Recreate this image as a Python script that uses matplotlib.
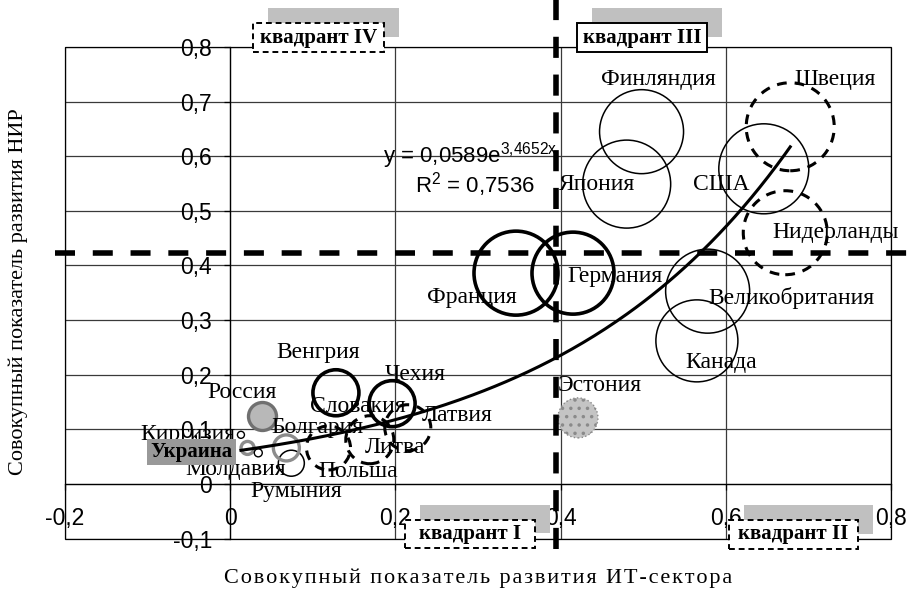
import numpy as np
import matplotlib
matplotlib.use("Agg")
import matplotlib.pyplot as plt
from matplotlib.patches import Rectangle

# ==========================================================
# DATA
# ==========================================================

countries = ["Финляндия", "Япония", "США", "Швеция", "Нидерланды",
             "Великобритания", "Канада", "Германия", "Франция", "Эстония",
             "Венгрия", "Чехия", "Польша", "Литва", "Латвия",
             "Россия", "Болгария", "Украина", "Киргизия", "Молдавия", "Румыния"]

it_index = [0.498, 0.480, 0.646, 0.678, 0.672,
            0.578, 0.565, 0.415, 0.346, 0.421,
            0.128, 0.196, 0.119, 0.169, 0.215,
            0.038, 0.068, 0.021, 0.013, 0.034, 0.074]

rd_index = [0.645, 0.549, 0.577, 0.654, 0.460,
            0.353, 0.262, 0.386, 0.386, 0.121,
            0.167, 0.147, 0.066, 0.081, 0.103,
            0.125, 0.066, 0.066, 0.090, 0.057, 0.038]

# bubble value (relative size of each bubble)
bubble_value = [42, 44, 45, 44, 42,
                42, 41, 41, 42, 20,
                23, 23, 22, 24, 23,
                14, 13, 6.5, 3.5, 4, 13]

# bubble group -> drawing style
bubble_group = ["thin", "thin", "thin", "dash", "dash",
                "thin", "thin", "thick", "thick", "dots",
                "thick", "thick", "dash", "dash", "dash",
                "fill", "ring", "ring", "small", "small", "thin"]

# label texts and their positions (data units)
label_names = ["Финляндия", "Швеция", "Япония", "США", "Нидерланды",
               "Германия", "Франция", "Великобритания", "Канада", "Эстония",
               "Венгрия", "Чехия", "Словакия", "Латвия", "Литва", "Польша",
               "Болгария", "Румыния", "Россия", "Киргизия", "Молдавия"]
label_x = [0.518, 0.732, 0.444, 0.595, 0.733,
           0.466, 0.293, 0.680, 0.595, 0.448,
           0.106, 0.224, 0.154, 0.275, 0.200, 0.155,
           0.106, 0.080, 0.0145, -0.051, 0.007]
label_y = [0.740, 0.740, 0.549, 0.549, 0.460,
           0.379, 0.341, 0.341, 0.222, 0.181,
           0.240, 0.200, 0.141, 0.125, 0.066, 0.022,
           0.104, -0.013, 0.167, 0.090, 0.026]

ukraine_label = ("Украина", -0.047, 0.059)

# trend line  y = 0.0589 * exp(3.4652 x)
trend_a = 0.0589
trend_b = 3.4652
trend_range = (0.013, 0.678)

# quadrant thresholds
x_threshold = 0.3945
y_threshold = 0.423

x_ticks = [-0.2, 0.0, 0.2, 0.4, 0.6, 0.8]
y_ticks = [-0.1, 0.0, 0.1, 0.2, 0.3, 0.4, 0.5, 0.6, 0.7, 0.8]

# ==========================================================
# FIGURE
# ==========================================================

W, H = 923, 589
plt.rcParams["font.family"] = ["Liberation Serif", "DejaVu Serif"]
plt.rcParams["mathtext.fontset"] = "custom"
plt.rcParams["mathtext.rm"] = "Liberation Sans"
plt.rcParams["mathtext.it"] = "Liberation Sans"
plt.rcParams["hatch.color"] = "#505050"
plt.rcParams["hatch.linewidth"] = 1.3

fig = plt.figure(figsize=(W / 100, H / 100), dpi=100)
left, right, top, bottom = 65, 891, 47, 538.6
ax = fig.add_axes([left / W, 1 - bottom / H, (right - left) / W, (bottom - top) / H])

ax.set_xlim(-0.2, 0.8)
ax.set_ylim(-0.1, 0.8)

# grid
for v in y_ticks:
    ax.axhline(v, color="#3a3a3a", lw=0.9, zorder=1)
for v in x_ticks:
    ax.axvline(v, color="#3a3a3a", lw=0.9, zorder=1)

ax.add_patch(Rectangle((0, 0), 1, 1, transform=ax.transAxes, fill=False,
                       ec="black", lw=0.9, zorder=2, clip_on=False))

for s in ["top", "right"]:
    ax.spines[s].set_visible(False)
ax.spines["left"].set_position(("data", 0))
ax.spines["bottom"].set_position(("data", 0))
ax.spines["left"].set_linewidth(0.9)
ax.spines["bottom"].set_linewidth(0.9)


def fmt(v):
    if abs(v) < 1e-9:
        return "0"
    return f"{v:.1f}".replace(".", ",")


ax.set_xticks(x_ticks)
ax.set_xticklabels([fmt(v) for v in x_ticks])
ax.set_yticks(y_ticks)
ax.set_yticklabels([fmt(v) for v in y_ticks])
ax.tick_params(axis="x", direction="out", length=4, width=0.9, pad=12.5,
               labelsize=16.5, labelfontfamily="Liberation Sans")
ax.tick_params(axis="y", direction="out", length=4, width=0.9, pad=9,
               labelsize=16.5, labelfontfamily="Liberation Sans")

# ==========================================================
# BUBBLES
# ==========================================================

styles = {
    "thin": dict(facecolors="none", edgecolors="black", linewidths=1.1),
    "thick": dict(facecolors="none", edgecolors="black", linewidths=2.6),
    "dash": dict(facecolors="none", edgecolors="black", linewidths=2.2,
                 linestyle=(0, (3.2, 2.6))),
    "dots": dict(facecolors="#c4c4c4", edgecolors="#8a8a8a", linewidths=1.0,
                 linestyle=":", hatch=".."),
    "fill": dict(facecolors="#b8b8b8", edgecolors="#707070", linewidths=2.4),
    "ring": dict(facecolors="none", edgecolors="#8c8c8c", linewidths=2.4),
    "small": dict(facecolors="white", edgecolors="black", linewidths=1.0),
}

xs = np.array(it_index)
ys = np.array(rd_index)
sizes = (2 * np.array(bubble_value) * 0.72) ** 2
groups = np.array(bubble_group)
for g, st in styles.items():
    m = groups == g
    ax.scatter(xs[m], ys[m], s=sizes[m], zorder=3, **st)

# trend line
tx = np.linspace(trend_range[0], trend_range[1], 200)
ax.plot(tx, trend_a * np.exp(trend_b * tx), color="black", lw=2.2, zorder=5)

# quadrant threshold lines (run past the plot area)
ax.plot([x_threshold, x_threshold], [0.887, -0.14], color="black", lw=4,
        linestyle=(0, (3.8, 3.0)), clip_on=False, zorder=6)
ax.plot([-0.212, 0.84], [y_threshold, y_threshold], color="black", lw=4,
        linestyle=(0, (3.6, 3.2)), clip_on=False, zorder=6)

# ==========================================================
# TEXT
# ==========================================================

for name, lx, ly in zip(label_names, label_x, label_y):
    ax.text(lx, ly, name, fontsize=17, ha="center", va="center", zorder=7)

ax.text(ukraine_label[1], ukraine_label[2], ukraine_label[0], fontsize=15,
        fontweight="bold", ha="center", va="center", zorder=7,
        bbox=dict(boxstyle="square,pad=0.15", fc="#999999", ec="none"))

ax.text(0.185, 0.602, "y = 0,0589e$^{3{,}4652x}$", fontsize=16,
        family="Liberation Sans", ha="left", va="center", zorder=7)
ax.text(0.224, 0.549, "R$^{2}$ = 0,7536", fontsize=16,
        family="Liberation Sans", ha="left", va="center", zorder=7)

# quadrant label boxes (pixel layout: x0, y0, x1, y1, dashed)
quadrants = [("квадрант IV", 253, 23, 384, 52, True),
             ("квадрант III", 577, 23, 707, 52, False),
             ("квадрант I", 405, 520, 535, 548, True),
             ("квадрант II", 729, 520, 858, 549, True)]
for text, x0, y0, x1, y1, dashed in quadrants:
    w, h = x1 - x0, y1 - y0
    fig.add_artist(Rectangle(((x0 + 15) / W, 1 - (y1 - 15) / H), w / W, h / H,
                             transform=fig.transFigure, fc="#c0c0c0", ec="none",
                             zorder=8))
    fig.add_artist(Rectangle((x0 / W, 1 - y1 / H), w / W, h / H,
                             transform=fig.transFigure, fc="white", ec="black",
                             lw=1.4, ls=(0, (3, 2)) if dashed else "-", zorder=9))
    fig.text((x0 + x1) / 2 / W, 1 - (y0 + y1) / 2 / H, text, fontsize=15,
             fontweight="bold", ha="center", va="center", zorder=10)

# x title is letter-spaced in the reference
x_title = "Совокупный показатель развития ИТ-сектора"
fig.text(478 / W, 1 - 578 / H, "\u200a".join(x_title),
         fontsize=16, ha="center", va="center")
fig.text(18 / W, 1 - 292 / H, "Совокупный показатель развития НИР",
         fontsize=16, ha="center", va="center", rotation=90)

fig.savefig("out.png", dpi=100)
